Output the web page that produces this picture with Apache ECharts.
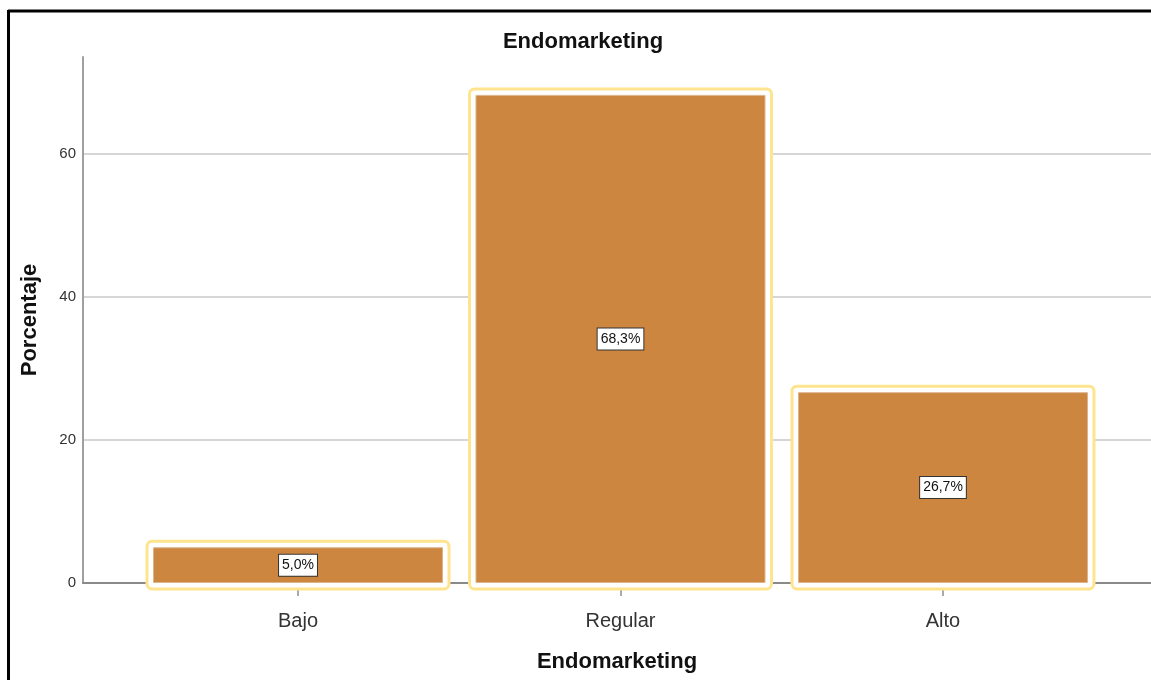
<!DOCTYPE html>
<html>
<head>
<meta charset="utf-8">
<script src="https://cdn.jsdelivr.net/npm/echarts@6/dist/echarts.min.js"></script>
<style>
  html, body { margin: 0; padding: 0; background: #fff; }
  #chart { width: 1151px; height: 680px; }
</style>
</head>
<body>
<div id="chart"></div>
<script>
// datos
const categorias = ['Bajo', 'Regular', 'Alto']
const porcentajes = [5.0, 68.3, 26.7]
const ticksY = [0, 20, 40, 60]

const chart = echarts.init(document.getElementById('chart'))

const puntos = porcentajes.map((v, i) => [i, v])
const fmtPct = v => v.toFixed(1).replace('.', ',') + '%'

const option = {
  animation: false,
  backgroundColor: '#fff',
  title: {
    text: 'Endomarketing',
    left: 578,
    top: 26,
    textAlign: 'center',
    textStyle: { fontFamily: 'Liberation Sans', fontSize: 22, fontWeight: 'bold', color: '#111' }
  },
  grid: { left: 83, right: 0, top: 57, bottom: 97 },
  xAxis: {
    type: 'value',
    min: -0.6667,
    max: 2.645,
    name: 'Endomarketing',
    nameLocation: 'middle',
    nameGap: 68,
    nameTextStyle: { fontFamily: 'Liberation Sans', fontSize: 22, fontWeight: 'bold', color: '#111' },
    axisLine: { show: true, onZero: false, lineStyle: { color: '#8a8a8a', width: 2 } },
    axisTick: { show: true, customValues: [0, 1, 2], length: 13, lineStyle: { color: '#aaa', width: 2 } },
    axisLabel: {
      customValues: [0, 1, 2],
      margin: 28,
      fontFamily: 'Liberation Sans',
      fontSize: 20,
      color: '#333',
      formatter: v => categorias[Math.round(v)]
    },
    splitLine: { show: false }
  },
  yAxis: {
    type: 'value',
    min: 0,
    max: 73.6,
    interval: 20,
    name: 'Porcentaje',
    nameLocation: 'middle',
    nameGap: 42,
    nameTextStyle: { fontFamily: 'Liberation Sans', fontSize: 22, fontWeight: 'bold', color: '#111' },
    axisLine: { show: true, onZero: false, lineStyle: { color: '#a0a0a0', width: 2 } },
    axisTick: { show: false },
    axisLabel: {
      margin: 7,
      fontFamily: 'Liberation Sans',
      fontSize: 15,
      color: '#333',
      showMaxLabel: false,
      formatter: v => ticksY.includes(v) ? String(v) : ''
    },
    splitLine: { show: true, showMaxLine: false, showMinLine: false, lineStyle: { color: '#c8c8c8', width: 1.5 } }
  },
  series: [
    {
      // marco amarillo de seleccion
      type: 'custom',
      z: 1,
      data: puntos,
      renderItem: (params, api) => {
        const base = api.coord([api.value(0), 0])
        const tope = api.coord([api.value(0), api.value(1)])
        const mitad = 151
        return {
          type: 'rect',
          shape: { x: base[0] - mitad, y: tope[1] - 6, width: mitad * 2, height: base[1] - tope[1] + 12, r: 5 },
          style: { fill: '#fff', stroke: '#ffe48f', lineWidth: 3 }
        }
      }
    },
    {
      type: 'bar',
      z: 3,
      data: puntos,
      barWidth: 290,
      itemStyle: { color: '#cc8640', borderColor: '#dcb48c', borderWidth: 1 },
      label: {
        show: true,
        position: 'inside',
        formatter: p => fmtPct(p.value[1]),
        fontFamily: 'Liberation Sans',
        fontSize: 14,
        color: '#111',
        backgroundColor: '#fff',
        borderColor: '#333',
        borderWidth: 1,
        padding: [4, 3, 3, 3]
      }
    }
  ],
  graphic: [
    { type: 'line', shape: { x1: 8, y1: 11, x2: 1151, y2: 11 }, style: { stroke: '#000', lineWidth: 3 }, z: 100 },
    { type: 'line', shape: { x1: 8.5, y1: 10, x2: 8.5, y2: 680 }, style: { stroke: '#000', lineWidth: 3 }, z: 100 }
  ]
}

chart.setOption(option)
window.onresize = () => chart.resize()
</script>
</body>
</html>
